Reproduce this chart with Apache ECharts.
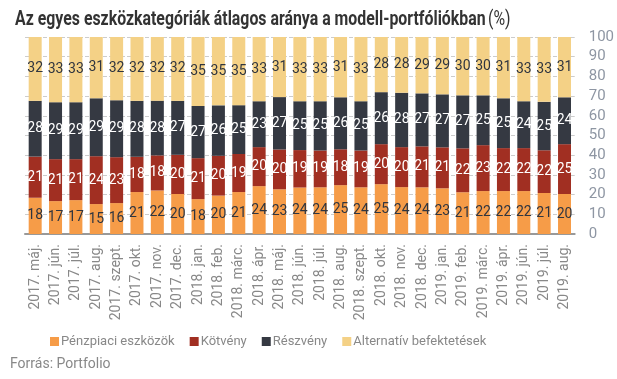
<!DOCTYPE html>
<html>
<head>
<meta charset="utf-8">
<script src="https://cdn.jsdelivr.net/npm/echarts@6/dist/echarts.min.js"></script>
<style>
html,body{margin:0;padding:0;background:#fff;}
#c{width:617px;height:379px;}
</style>
</head>
<body>
<div id="c"></div>
<script>
const categories = ['2017. máj.','2017. jún.','2017. júl.','2017. aug.','2017. szept.','2017. okt.','2017. nov.','2017. dec.',
  '2018. jan.','2018. feb.','2018. márc.','2018. ápr.','2018. máj.','2018. jún.','2018. júl.','2018. aug.','2018. szept.','2018. okt.','2018. nov.','2018. dec.',
  '2019. jan.','2019. feb.','2019. márc.','2019. ápr.','2019. jún.','2019. júl.','2019. aug.'];
// values (labels show them rounded)
const penzpiaci  = [18.4,16.7,17.2,15.2,15.7,21.3,22.1,20.3,17.7,19.5,21.3,24.3,22.7,23.6,23.7,24.8,23.7,25.3,23.8,23.7,23.2,21.2,21.8,21.8,21.8,20.8,20.3];
const kotveny    = [20.9,21.3,20.8,24.3,23.3,17.9,17.8,19.9,20.8,20.2,19.3,19.8,20.2,19.0,18.7,18.2,18.7,20.3,20.3,20.8,20.8,22.3,23.3,21.8,21.8,21.7,25.3];
const reszveny   = [28.3,28.9,28.9,29.4,28.9,28.4,27.8,27.4,26.5,25.6,24.8,23.3,26.6,24.8,25.0,26.4,25.0,26.4,27.6,26.9,26.9,26.9,25.3,25.3,23.8,24.6,23.8];
const alternativ = [32.4,33.1,33.1,31.1,32.1,32.4,32.3,32.4,35.0,34.7,34.6,32.6,30.5,32.6,32.6,30.6,32.6,28.0,28.3,28.6,29.1,29.6,29.6,31.1,32.6,32.9,30.6];
const seriesNames = ['Pénzpiaci eszközök','Kötvény','Részvény','Alternatív befektetések'];
const titleMain = 'Az egyes eszközkategóriák átlagos aránya a modell-portfóliókban';
const titleUnit = '(%)';
const sourceText = 'Forrás: Portfolio';
</script>
<script>
const colors = ['#F69C48','#A12F22','#353942','#F4D186'];
const labelColors = ['#2f3540','#ffffff','#ffffff','#2f3540'];
const dataSets = [penzpiaci, kotveny, reszveny, alternativ];
const FONT = 'Roboto';
const chart = echarts.init(document.getElementById('c'), null, {renderer:'canvas'});
chart.setOption({
  animation:false,
  textStyle:{fontFamily:FONT},
  color:colors,
  graphic:[
    {type:'text', x:15, y:9, scaleX:0.755, style:{
      text:'{b|' + titleMain + '} {n|' + titleUnit + '}',
      rich:{b:{font:'bold 21px Roboto', fill:'#333'}, n:{font:'21px Roboto', fill:'#333'}}
    }},
    {type:'text', x:10, y:357, style:{text:sourceText, font:'14px Roboto', fill:'#888'}}
  ],
  legend:{
    data:seriesNames, left:45, top:330, itemWidth:9, itemHeight:9, itemGap:15,
    icon:'rect', textStyle:{color:'#888', fontSize:13, fontFamily:FONT, padding:[0,0,0,-3]}
  },
  grid:{left:25, right:41, top:37, bottom:145},
  xAxis:{
    type:'category', data:categories,
    axisLine:{lineStyle:{color:'#999', width:2}},
    axisTick:{show:false},
    axisLabel:{rotate:90, color:'#888', fontSize:14, margin:10, interval:0}
  },
  yAxis:{
    type:'value', position:'right', min:0, max:100, interval:10,
    axisLine:{show:false}, axisTick:{show:false},
    splitLine:{lineStyle:{color:'#ccc', type:'dashed'}},
    axisLabel:{color:'#8e96a3', fontSize:15, margin:14}
  },
  series: seriesNames.map((n,i)=>({
    name:n, type:'bar', stack:'s', data:dataSets[i], barWidth:13,
    label:{show:true, position:'inside', color:labelColors[i], fontSize:14, fontFamily:FONT,
      formatter:p=>String(Math.round(p.value))}
  }))
});
</script>
</body>
</html>
